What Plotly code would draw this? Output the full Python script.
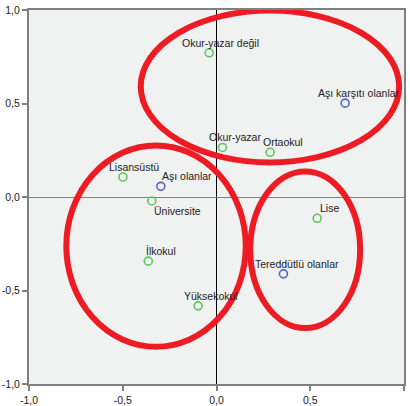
import plotly.graph_objects as go

# Education categories (green)
edu_labels = ["Okur-yazar değil", "Okur-yazar", "Ortaokul", "Lisansüstü", "Üniversite",
              "İlkokul", "Yüksekokul", "Lise"]
edu_x = [-0.039, 0.032, 0.286, -0.499, -0.345, -0.364, -0.098, 0.537]
edu_y = [0.771, 0.265, 0.239, 0.107, -0.021, -0.343, -0.582, -0.114]

# Vaccination attitude categories (blue)
vac_labels = ["Aşı karşıtı olanlar", "Aşı olanlar", "Tereddütlü olanlar"]
vac_x = [0.686, -0.297, 0.357]
vac_y = [0.502, 0.057, -0.411]

tick_vals = [-1.0, -0.5, 0.0, 0.5, 1.0]
tick_text = ["-1,0", "-0,5", "0,0", "0,5", "1,0"]

# Hand-drawn ellipses (data-space bounds): x0, x1, y0, y1
ellipses = [
    (-0.404, 0.974, 0.185, 0.997),
    (-0.801, 0.156, -0.801, 0.276),
    (0.180, 0.766, -0.701, 0.137),
]

# Label offsets in pixels (xshift, yshift)
label_offsets = {
    "Okur-yazar değil": (-28, 10), "Okur-yazar": (-15, 10), "Ortaokul": (-8, 10),
    "Lisansüstü": (-15, 10), "Üniversite": (1, -10), "İlkokul": (-3, 10),
    "Yüksekokul": (-15, 10), "Lise": (2, 10),
    "Aşı karşıtı olanlar": (-28, 10), "Aşı olanlar": (0, 10), "Tereddütlü olanlar": (-29, 10),
}

fig = go.Figure()
fig.add_trace(go.Scatter(x=edu_x, y=edu_y, mode="markers",
                         marker=dict(symbol="circle-open", size=8, color="#5ec45e",
                                     line=dict(width=1.6, color="#5ec45e")),
                         hoverinfo="skip", showlegend=False, cliponaxis=False))
fig.add_trace(go.Scatter(x=vac_x, y=vac_y, mode="markers",
                         marker=dict(symbol="circle-open", size=8, color="#5266c4",
                                     line=dict(width=1.6, color="#5266c4")),
                         hoverinfo="skip", showlegend=False, cliponaxis=False))

for lbls, xs, ys in [(edu_labels, edu_x, edu_y), (vac_labels, vac_x, vac_y)]:
    for t, x, y in zip(lbls, xs, ys):
        dx, dy = label_offsets[t]
        fig.add_annotation(x=x, y=y, text=t, showarrow=False, xanchor="left", yanchor="middle",
                           xshift=dx - 1, yshift=dy,
                           font=dict(family="Liberation Sans, Arial", size=10.5, color="#222222"))

for x0, x1, y0, y1 in ellipses:
    fig.add_shape(type="circle", xref="x", yref="y", x0=x0, x1=x1, y0=y0, y1=y1,
                  line=dict(color="#ed1c24", width=6), layer="above")

axis_common = dict(range=[-1, 1], tickvals=tick_vals, ticktext=tick_text, showgrid=False,
                   showline=True, linecolor="#808080", linewidth=2, mirror=True,
                   ticks="outside", ticklen=5, tickwidth=2, tickcolor="#808080",
                   automargin=False,
                   tickfont=dict(family="Liberation Sans, Arial", size=10.5, color="#222222"))

fig.update_xaxes(**axis_common, zeroline=True, zerolinecolor="#000000", zerolinewidth=1)
fig.update_yaxes(**axis_common, zeroline=True, zerolinecolor="#808080", zerolinewidth=1)

fig.update_layout(width=410, height=406, margin=dict(l=29, r=6, t=10, b=22),
                  plot_bgcolor="#f0f1f1", paper_bgcolor="#ffffff")

fig.write_html("out.html", config={"displayModeBar": False},
               post_script="document.body.style.margin='0';document.body.style.overflow='hidden';")
